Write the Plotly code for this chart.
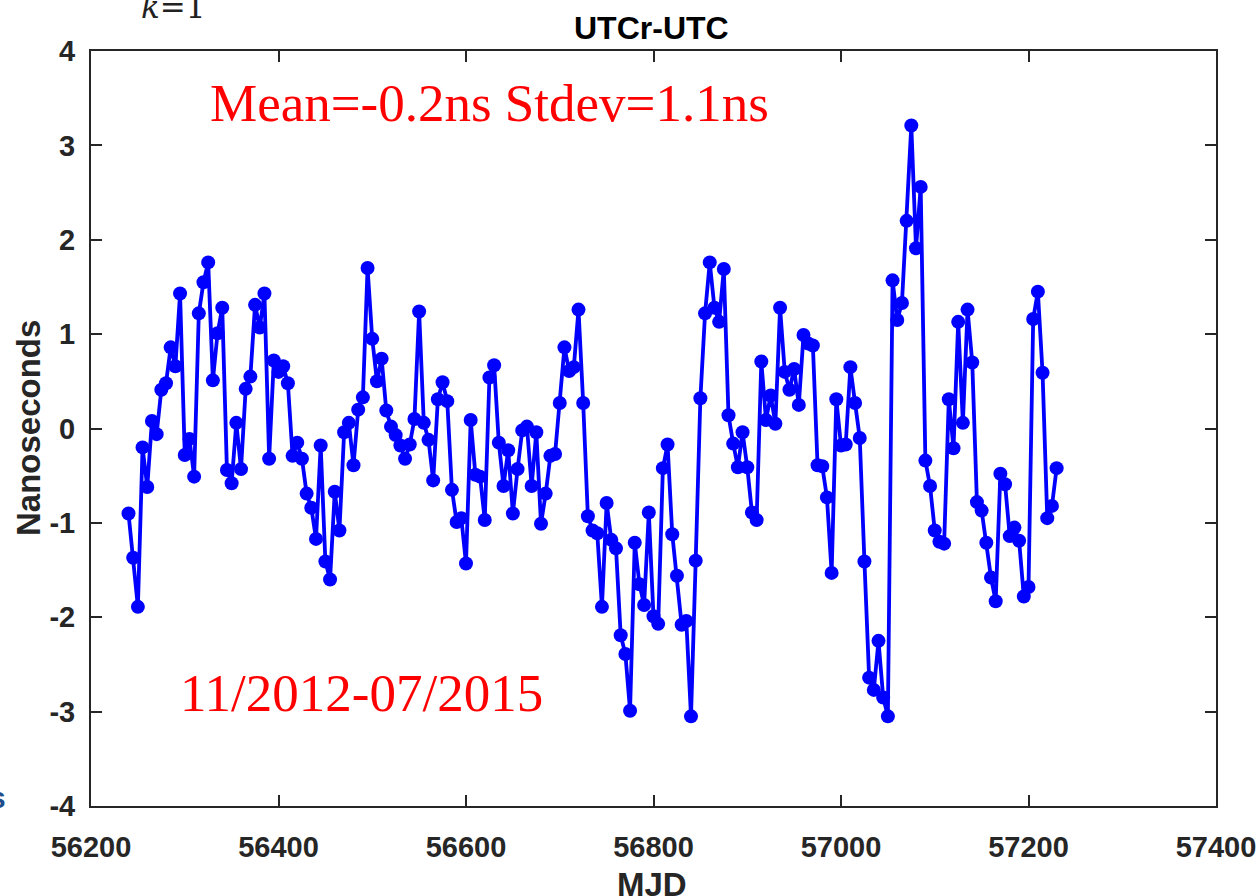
import plotly.graph_objects as go

# MJD sampling (5-day cadence)
mjd = list(range(56240, 57231, 5))

utcr_minus_utc = [
    -0.90, -1.37, -1.89, -0.20, -0.62, 0.08, -0.06, 0.41, 0.48, 0.86,
    0.66, 1.43, -0.28, -0.11, -0.51, 1.22, 1.55, 1.76, 0.51, 1.01,
    1.28, -0.44, -0.58, 0.06, -0.43, 0.42, 0.55, 1.31, 1.07, 1.43,
    -0.32, 0.72, 0.60, 0.66, 0.48, -0.29, -0.15, -0.32, -0.69, -0.84,
    -1.17, -0.18, -1.41, -1.60, -0.67, -1.08, -0.04, 0.06, -0.39, 0.20,
    0.33, 1.70, 0.95, 0.50, 0.74, 0.19, 0.02, -0.07, -0.18, -0.32,
    -0.17, 0.10, 1.24, 0.06, -0.12, -0.55, 0.31, 0.49, 0.29, -0.65,
    -0.99, -0.95, -1.43, 0.09, -0.49, -0.51, -0.97, 0.54, 0.67, -0.15,
    -0.61, -0.23, -0.90, -0.43, -0.02, 0.02, -0.61, -0.04, -1.01, -0.69,
    -0.29, -0.27, 0.27, 0.86, 0.61, 0.65, 1.26, 0.27, -0.93, -1.08,
    -1.11, -1.89, -0.79, -1.18, -1.27, -2.19, -2.39, -2.99, -1.21, -1.65,
    -1.87, -0.89, -1.99, -2.07, -0.42, -0.17, -1.12, -1.56, -2.08, -2.04,
    -3.05, -1.40, 0.32, 1.22, 1.76, 1.28, 1.13, 1.69, 0.14, -0.16,
    -0.41, -0.04, -0.41, -0.89, -0.97, 0.71, 0.09, 0.35, 0.05, 1.28,
    0.60, 0.41, 0.63, 0.25, 0.99, 0.90, 0.88, -0.39, -0.40, -0.73,
    -1.53, 0.31, -0.18, -0.17, 0.65, 0.27, -0.10, -1.41, -2.64, -2.77,
    -2.25, -2.85, -3.05, 1.57, 1.15, 1.33, 2.20, 3.21, 1.91, 2.56,
    -0.34, -0.61, -1.08, -1.20, -1.22, 0.31, -0.21, 1.13, 0.06, 1.26,
    0.70, -0.78, -0.87, -1.21, -1.58, -1.83, -0.48, -0.59, -1.14, -1.05,
    -1.19, -1.78, -1.68, 1.16, 1.45, 0.59, -0.95, -0.82, -0.42,
]

x_ticks = [56200, 56400, 56600, 56800, 57000, 57200, 57400]
x_tick_labels = ["56200", "56400", "56600", "56800", "57000", "57200", "57400"]
y_ticks = [-4, -3, -2, -1, 0, 1, 2, 3, 4]
y_tick_labels = ["-4", "-3", "-2", "-1", "0", "1", "2", "3", "4"]

title_text = "UTCr-UTC"
x_title = "MJD"
y_title = "Nanoseconds"
stats_text = "Mean=-0.2ns Stdev=1.1ns"
period_text = "11/2012-07/2015"

W, H = 1260, 896
L, R, T, B = 91, 44, 51, 90
PW, PH = W - L - R, H - T - B


def px(xp):
    return (xp - L) / PW


def py(yp):
    return (H - B - yp) / PH


SANS = "Liberation Sans, Arial, Helvetica, sans-serif"
SERIF = "Liberation Serif, Times New Roman, serif"
DARK = "#262626"

fig = go.Figure()
fig.add_trace(go.Scatter(
    x=mjd, y=utcr_minus_utc,
    mode="lines+markers",
    line=dict(color="#0000FF", width=3.8),
    marker=dict(color="#0000FF", size=14, symbol="circle"),
    showlegend=False,
))

axis_common = dict(
    showline=True, linecolor=DARK, linewidth=2, mirror="ticks",
    ticks="inside", ticklen=11, tickwidth=1.5, tickcolor=DARK,
    showgrid=False, zeroline=False, automargin=False,
    tickfont=dict(family=SANS, size=29, color=DARK, weight="bold"),
)

fig.update_layout(
    width=W, height=H,
    paper_bgcolor="white", plot_bgcolor="white",
    margin=dict(l=L, r=R, t=T, b=B, autoexpand=False),
    xaxis=dict(range=[56200, 57400], tickvals=x_ticks, ticktext=x_tick_labels,
               ticklabelstandoff=14, **axis_common),
    yaxis=dict(range=[-4, 4], tickvals=y_ticks, ticktext=y_tick_labels,
               ticklabelstandoff=8, **axis_common),
)

fig.add_annotation(
    text=f"<b>{title_text}</b>", xref="paper", yref="paper",
    x=px(651), y=py(28), xanchor="center", yanchor="middle", showarrow=False,
    font=dict(family=SANS, size=32, color="black"),
)
fig.add_annotation(
    text=f"<b>{x_title}</b>", xref="paper", yref="paper",
    x=px(652), y=py(884), xanchor="center", yanchor="middle", showarrow=False,
    font=dict(family=SANS, size=33, color=DARK),
)
fig.add_annotation(
    text=f"<b>{y_title}</b>", xref="paper", yref="paper",
    x=px(28), y=py(428), xanchor="center", yanchor="middle", showarrow=False,
    textangle=-90,
    font=dict(family=SANS, size=33, color=DARK),
)
fig.add_annotation(
    text=stats_text, xref="paper", yref="paper",
    x=px(489), y=py(103),
    xanchor="center", yanchor="middle", showarrow=False,
    font=dict(family=SERIF, size=53, color="#FF0000"),
)
fig.add_annotation(
    text=period_text, xref="paper", yref="paper",
    x=px(361), y=py(693),
    xanchor="center", yanchor="middle", showarrow=False,
    font=dict(family=SERIF, size=53, color="#FF0000"),
)
# partial fragments visible at the page edges
fig.add_annotation(
    text="<i>k</i>=1", xref="paper", yref="paper",
    x=px(173), y=py(7),
    xanchor="center", yanchor="middle", showarrow=False,
    font=dict(family="DejaVu Serif, serif", size=31, color="#222222"),
)
fig.add_annotation(
    text="<b>s</b>", xref="paper", yref="paper",
    x=px(8), y=py(797),
    xanchor="right", yanchor="middle", showarrow=False,
    font=dict(family=SANS, size=30, color="#1F4E8C"),
)

fig.write_html(
    "out.html",
    config={"displayModeBar": False},
    post_script="document.body.style.margin='0';document.body.style.padding='0';",
)
